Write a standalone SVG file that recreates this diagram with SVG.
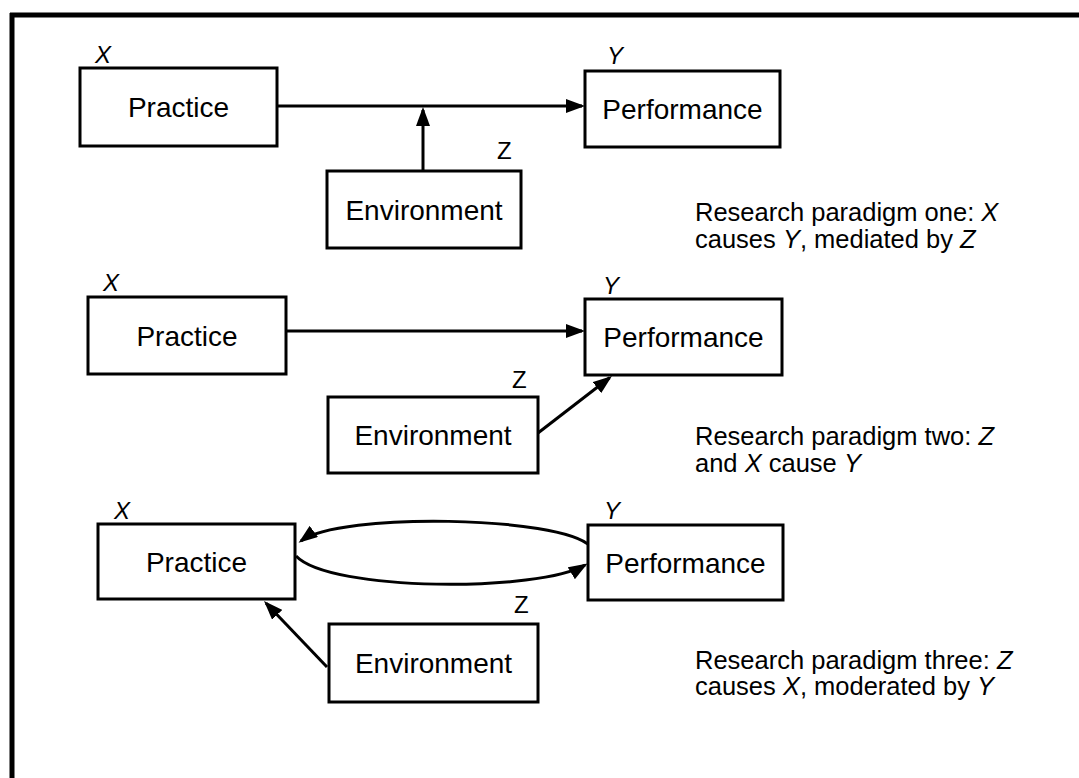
<svg xmlns="http://www.w3.org/2000/svg" width="1079" height="778" viewBox="0 0 1079 778">
<style>
.box{fill:#fff;stroke:#000;stroke-width:3}
.lbl{font-family:"Liberation Sans",Arial,sans-serif;font-size:28px;fill:#000;text-anchor:middle}
.var{font-family:"Liberation Sans",Arial,sans-serif;font-size:24px;fill:#000;font-style:italic}
.zv{font-family:"Liberation Sans",Arial,sans-serif;font-size:24px;fill:#000}
.cap{font-family:"Liberation Sans",Arial,sans-serif;font-size:25.5px;fill:#000}
.conn{fill:none;stroke:#000;stroke-width:3}
.it{font-style:italic}
</style>
<defs>
<marker id="ah" viewBox="0 0 19 14" refX="16" refY="7" markerWidth="19" markerHeight="14" markerUnits="userSpaceOnUse" orient="auto">
<path d="M0,0 L19,7 L0,14 z" fill="#000"/>
</marker>
</defs>
<rect width="1079" height="778" fill="#fff"/>
<g id="frame">
<line x1="10" y1="15" x2="1079" y2="15" stroke="#000" stroke-width="5"/>
<line x1="12" y1="13" x2="12" y2="778" stroke="#000" stroke-width="5"/>
</g>
<g id="connectors">
<path class="conn" d="M277,106 L582,106" marker-end="url(#ah)"/>
<path class="conn" d="M423,171 L423,110" marker-end="url(#ah)"/>
<path class="conn" d="M286,331 L582,331" marker-end="url(#ah)"/>
<path class="conn" d="M538,433 L609.6,377.8" marker-end="url(#ah)"/>
<path class="conn" d="M590,546 C560,516 340,512 301,541" marker-end="url(#ah)"/>
<path class="conn" d="M296,556 C330,592 540,592 585,565" marker-end="url(#ah)"/>
<path class="conn" d="M327,667 L266.1,603.2" marker-end="url(#ah)"/>
</g>
<g id="practice1"><rect class="box" x="80" y="68" width="197" height="78"/><text class="lbl" x="178.5" y="117">Practice</text><text class="var" x="95" y="63">X</text></g>
<g id="performance1"><rect class="box" x="585" y="71" width="195" height="76"/><text class="lbl" x="682.5" y="119">Performance</text><text class="var" x="607" y="64">Y</text></g>
<g id="environment1"><rect class="box" x="327" y="171" width="194" height="77"/><text class="lbl" x="424" y="220">Environment</text><text class="zv" x="497" y="159">Z</text></g>
<g id="caption1"><text class="cap" x="695" y="221">Research paradigm one: <tspan class="it">X</tspan></text><text class="cap" x="695" y="248">causes <tspan class="it">Y</tspan>, mediated by <tspan class="it">Z</tspan></text></g>

<g id="practice2"><rect class="box" x="88" y="297" width="198" height="77"/><text class="lbl" x="187" y="346">Practice</text><text class="var" x="103" y="291">X</text></g>
<g id="performance2"><rect class="box" x="585" y="299" width="197" height="76"/><text class="lbl" x="683.5" y="347">Performance</text><text class="var" x="603" y="294">Y</text></g>
<g id="environment2"><rect class="box" x="328" y="397" width="210" height="76"/><text class="lbl" x="433" y="445">Environment</text><text class="zv" x="512" y="388">Z</text></g>
<g id="caption2"><text class="cap" x="695" y="445">Research paradigm two: <tspan class="it">Z</tspan></text><text class="cap" x="695" y="472">and <tspan class="it">X</tspan> cause <tspan class="it">Y</tspan></text></g>

<g id="practice3"><rect class="box" x="98" y="524" width="197" height="75"/><text class="lbl" x="196.5" y="572">Practice</text><text class="var" x="114" y="519">X</text></g>
<g id="performance3"><rect class="box" x="588" y="525" width="195" height="75"/><text class="lbl" x="685.5" y="573">Performance</text><text class="var" x="604" y="519">Y</text></g>
<g id="environment3"><rect class="box" x="329" y="624" width="209" height="78"/><text class="lbl" x="433.5" y="673">Environment</text><text class="zv" x="514" y="613">Z</text></g>
<g id="caption3"><text class="cap" x="695" y="669">Research paradigm three: <tspan class="it">Z</tspan></text><text class="cap" x="695" y="695">causes <tspan class="it">X</tspan>, moderated by <tspan class="it">Y</tspan></text></g>
</svg>
